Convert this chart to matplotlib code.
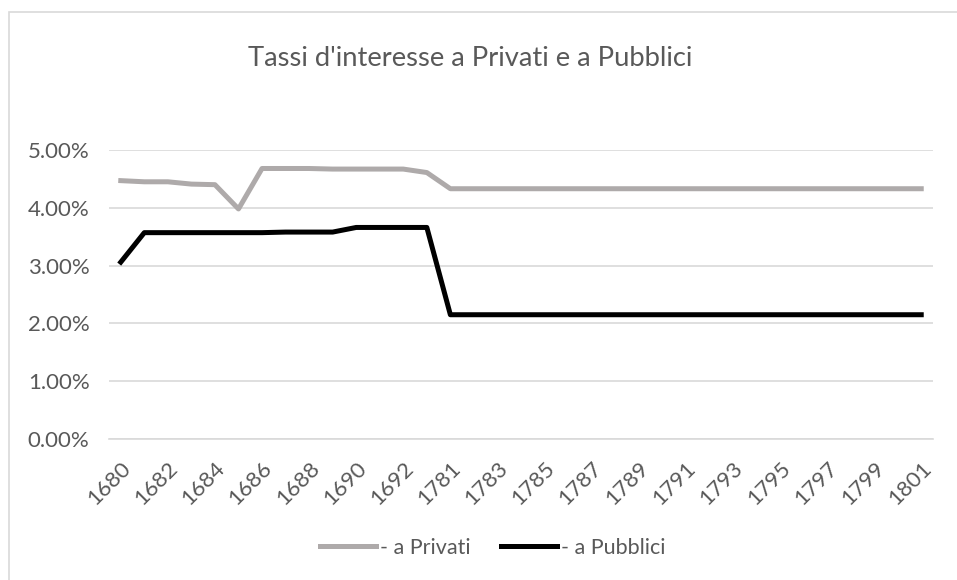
import matplotlib.pyplot as plt
from matplotlib.patches import Rectangle
from matplotlib.ticker import PercentFormatter

plt.rcParams['font.family'] = ['Lato', 'DejaVu Sans']

years = [str(y) for y in range(1680, 1694)] + [str(y) for y in range(1781, 1802)]

privati = [4.47, 4.45, 4.45, 4.41, 4.40, 3.98, 4.68, 4.68, 4.68, 4.67, 4.67, 4.67, 4.67, 4.61] + [4.33] * 21
pubblici = [3.06, 3.57, 3.57, 3.57, 3.57, 3.57, 3.57, 3.58, 3.58, 3.58, 3.66, 3.66, 3.66, 3.66] + [2.15] * 21

txt = '#595959'
grid = '#D9D9D9'

fig = plt.figure(figsize=(9.57, 5.8), dpi=100)
W, H = 957, 580
ax = fig.add_axes([109 / W, 1 - 439 / H, (933 - 109) / W, (439 - 150) / H])

x = list(range(len(years)))
ax.plot(x, [v / 100 for v in privati], color='#AEAAAA', lw=3.6, label='- a Privati')
ax.plot(x, [v / 100 for v in pubblici], color='#000000', lw=3.6, label='- a Pubblici')

ax.set_xlim(-0.5, len(years) - 0.5)
ax.set_ylim(0, 0.05)
ax.set_yticks([0, 0.01, 0.02, 0.03, 0.04, 0.05])
ax.yaxis.set_major_formatter(PercentFormatter(1.0, decimals=2))
ax.set_xticks(x[::2])
ax.set_xticklabels(years[::2], rotation=45, ha='right', rotation_mode='anchor', fontsize=17)

ax.grid(axis='y', color=grid, lw=1.2)
ax.set_axisbelow(True)
for s in ['top', 'right', 'left']:
    ax.spines[s].set_visible(False)
ax.spines['bottom'].set_color(grid)
ax.spines['bottom'].set_linewidth(1.2)
ax.tick_params(axis='both', length=0, colors=txt, labelsize=16)
ax.tick_params(axis='y', pad=14)
ax.tick_params(axis='x', pad=14)

fig.text(470 / W, 1 - 58 / H, "Tassi d'interesse a Privati e a Pubblici",
         ha='center', va='center', fontsize=19.7, color=txt)

leg = fig.legend(loc='center', bbox_to_anchor=(493 / W, 1 - 548 / H), ncol=2, frameon=False,
                 fontsize=15.5, handlelength=2.6, handletextpad=0.2, columnspacing=1.4)
for t in leg.get_texts():
    t.set_color(txt)

fig.patches.append(Rectangle((9 / W, -0.1), 1.2, 1.1 - 12 / H, transform=fig.transFigure,
                             fill=False, edgecolor=grid, lw=1.2))

fig.savefig('out.png', dpi=100)
